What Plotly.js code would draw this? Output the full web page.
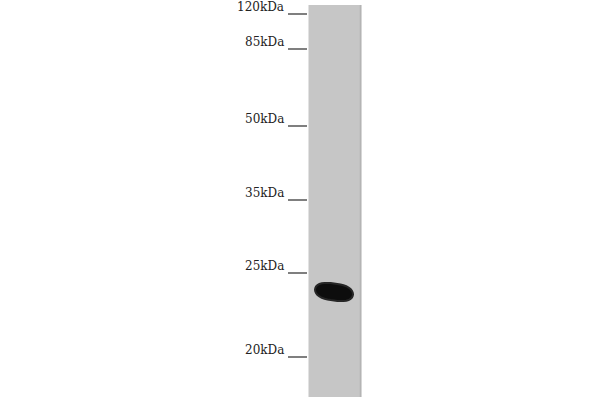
<!DOCTYPE html>
<html>
<head>
<meta charset="utf-8">
<script src="https://cdn.plot.ly/plotly-3.0.1.min.js"></script>
<style>
  html, body { margin: 0; padding: 0; background: #fff; }
  #blot { width: 600px; height: 400px; }
</style>
</head>
<body>
<div id="blot"></div>
<script>
// ladder: marker sizes and where they ran on the gel (pixels from top)
const markerLabels = ['120kDa', '85kDa', '50kDa', '35kDa', '25kDa', '20kDa'];
const markerPos = [14, 49, 126, 200, 273, 357];

// the single lane
const laneCenter = [335];
const laneWidth = [53];
const laneTop = [5];
const laneBottom = [397];

// the band seen in the lane
const bandX = [334];
const bandY = [292];
const bandWidth = [38];
const bandHeight = [20];

// tick marks left of the lane
let tickX = [], tickY = [];
for (let i = 0; i < markerPos.length; i++) {
    tickX.push(288, 307, null);
    tickY.push(markerPos[i], markerPos[i], null);
}

let lane = {
    type: 'bar',
    x: laneCenter,
    y: [laneBottom[0] - laneTop[0]],
    base: laneTop,
    width: laneWidth,
    marker: { color: '#c6c6c6', line: { width: 0 } },
    hoverinfo: 'skip'
};

let ticks = {
    type: 'scatter',
    mode: 'lines',
    x: tickX,
    y: tickY,
    line: { color: '#3a3a3a', width: 1.3 },
    hoverinfo: 'skip'
};

// band drawn as a slightly tilted blob
let bandPath = '';
{
    const cx = bandX[0], cy = bandY[0], rx = bandWidth[0] / 2, ry = bandHeight[0] / 2;
    const pts = [];
    for (let a = 0; a < 360; a += 10) {
        const t = a * Math.PI / 180;
        const px = rx * Math.cos(t);
        let py = ry * Math.sin(t);
        py = py * (1 - 0.15 * Math.pow(Math.sin(t), 4));
        pts.push([cx + px, cy + py + px * 0.12]);
    }
    bandPath = 'M' + pts.map(p => p[0].toFixed(1) + ',' + p[1].toFixed(1)).join('L') + 'Z';
}

let annotations = markerLabels.map((lab, i) => ({
    x: 285, y: markerPos[i] - 7,
    xref: 'x', yref: 'y',
    text: lab,
    showarrow: false,
    xanchor: 'right', yanchor: 'middle',
    borderpad: 0,
    font: { family: 'DejaVu Serif', size: 12, color: '#222' }
}));

let layout = {
    width: 600, height: 400,
    margin: { l: 0, r: 0, t: 0, b: 0 },
    paper_bgcolor: '#fff',
    plot_bgcolor: '#fff',
    showlegend: false,
    xaxis: { range: [0, 600], visible: false, fixedrange: true },
    yaxis: { range: [400, 0], visible: false, fixedrange: true },
    annotations: annotations,
    shapes: [
        {
            type: 'path', xref: 'x', yref: 'y', path: bandPath,
            fillcolor: '#0d0d0d', line: { color: '#262626', width: 2 }
        },
        {
            type: 'line', xref: 'x', yref: 'y',
            x0: laneCenter[0] + laneWidth[0] / 2 - 1, x1: laneCenter[0] + laneWidth[0] / 2 - 1,
            y0: laneTop[0], y1: laneBottom[0],
            line: { color: '#b4b4b4', width: 1.5 }
        }
    ]
};

Plotly.newPlot('blot', [lane, ticks], layout, { staticPlot: true });
</script>
</body>
</html>
